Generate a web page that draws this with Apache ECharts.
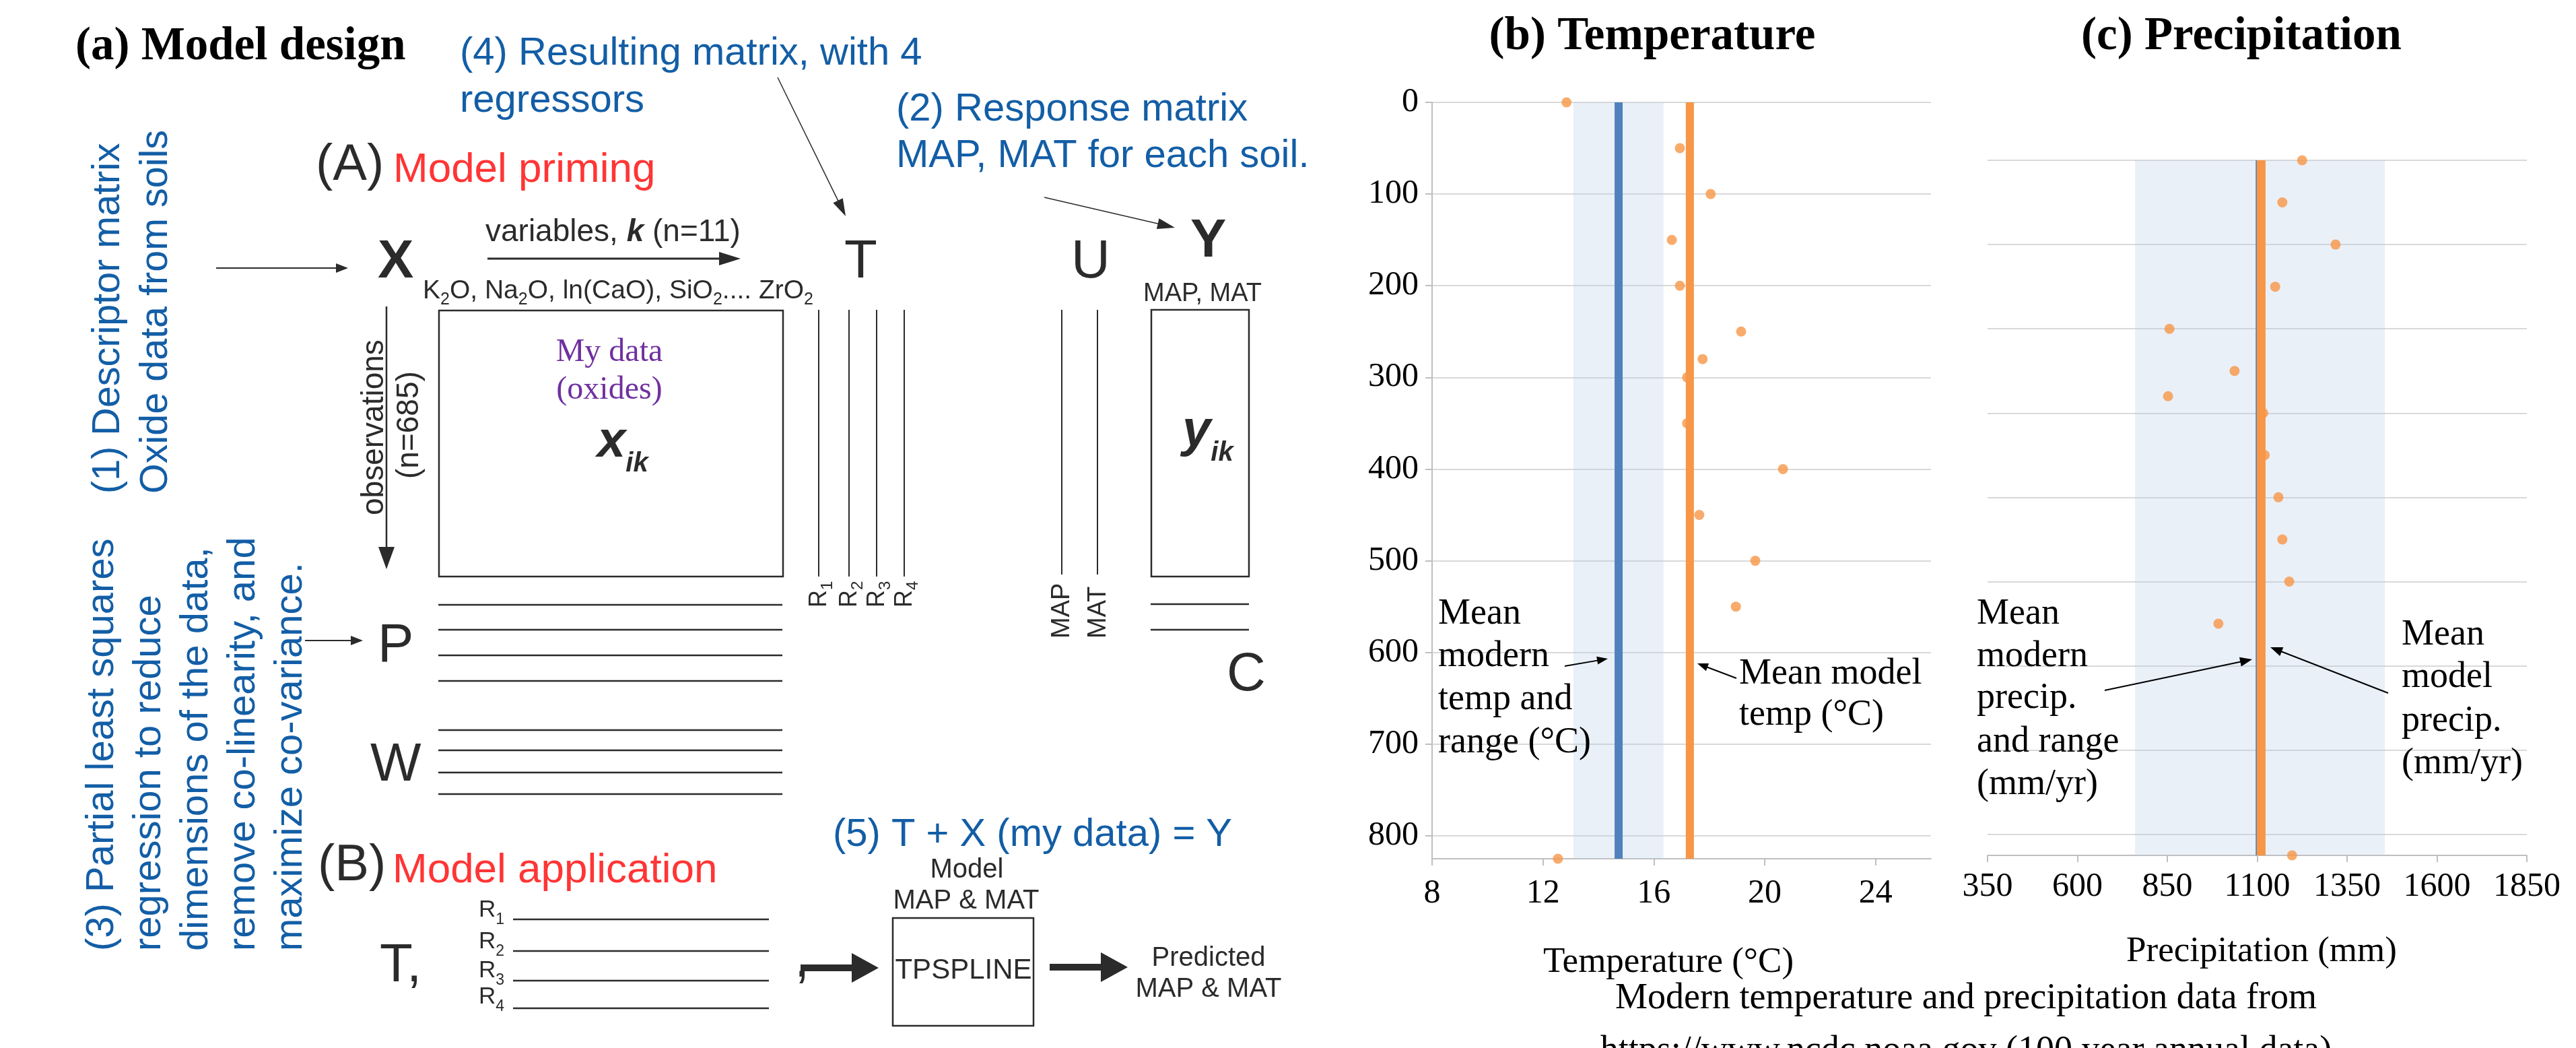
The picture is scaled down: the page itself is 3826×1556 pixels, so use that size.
<!DOCTYPE html>
<html>
<head>
<meta charset="utf-8">
<title>Model design, temperature and precipitation</title>
<script src="https://cdn.jsdelivr.net/npm/echarts@6/dist/echarts.min.js"></script>
<style>
  html, body { margin: 0; padding: 0; background: #fff; }
  #chart { width: 3826px; height: 1556px; }
</style>
</head>
<body>
<div id="chart"></div>
<script>
// depth of each sample (same depths in both panels)
const depths = [0, 50, 100, 150, 200, 250, 280, 300, 350, 400, 450, 500, 550, 825];
// model temperature (°C) per depth
const modelTemp = [12.85, 16.94, 18.05, 16.65, 16.94, 19.15, 17.76, 17.2, 17.2, 20.66, 17.64, 19.66, 18.96, 12.54];
// model precipitation (mm) per depth
const modelPrecip = [1225, 1170, 1318, 1150, 856, 1037, 852, 1117, 1121, 1159, 1170, 1189, 992, 1197];
// means and modern ranges
const meanModelTemp = 17.3;
const meanModernTemp = 14.73;
const modernTempRange = [13.1, 16.35];
const meanModelPrecip = 1111;
const meanModernPrecip = 1107;
const modernPrecipRange = [760, 1455];
// ticks
const depthMax = 825;
const depthTicks = [0, 100, 200, 300, 400, 500, 600, 700, 800];
const tempTicks = [8, 12, 16, 20, 24];
const precipTicks = [350, 600, 850, 1100, 1350, 1600, 1850];

const SANS = "'Liberation Sans', Arial, sans-serif";
const SERIF = "'Liberation Serif', 'Times New Roman', serif";
const INK = '#2b2b2b';
const BLUE = '#135EA6';
const RED = '#FF3535';
const PURPLE = '#7030A0';
const ORANGE = '#F79646';
const BLUE_LINE = '#4F81BD';
const BAND = 'rgba(185, 204, 232, 0.3)';
const AXIS_GRAY = '#BFBFBF';
const GRID_GRAY = '#D9D9D9';

// --- helpers for the diagram (graphic elements) ---
const ctx = document.createElement('canvas').getContext('2d');
function fontOf(size, family, weight) {
  return (weight ? weight + ' ' : '') + size + 'px ' + family;
}
function measure(text, font) {
  ctx.font = font;
  return ctx.measureText(text).width;
}
function tstyle(text, font, fill, align) {
  return { text: text, font: font, fill: fill,
    align: align || 'left', textAlign: align || 'left',
    verticalAlign: 'middle', textVerticalAlign: 'middle' };
}
// single line of text, y given as baseline
function txt(text, x, base, size, family, fill, align, weight) {
  return { type: 'text', z: 50, x: x, y: base - 0.34 * size,
    style: tstyle(text, fontOf(size, family, weight), fill, align) };
}
// rotated (reading upwards) lines; x0 = baseline of first line, y0 = start
function rot(lines, x0, y0, size, lh, family, fill) {
  const font = fontOf(size, family);
  return { type: 'group', x: x0, y: y0, rotation: Math.PI / 2, z: 50,
    children: lines.map((t, i) => ({ type: 'text', z: 50, x: 0, y: i * lh - 0.34 * size,
      style: tstyle(t, font, fill) })) };
}
// mixed runs (subscripts etc.): parts = [text, size, dy, weight]
function run(x, base, parts, fill, rotation) {
  let cx = 0;
  const kids = parts.map(p => {
    const font = fontOf(p[1], SANS, p[3]);
    const el = { type: 'text', z: 50, x: cx, y: (p[2] || 0) - 0.34 * p[1], style: tstyle(p[0], font, fill) };
    cx += measure(p[0], font);
    return el;
  });
  return { type: 'group', x: x, y: base, rotation: rotation || 0, z: 50, children: kids };
}
function seg(x1, y1, x2, y2, lw) {
  return { type: 'line', z: 50, shape: { x1: x1, y1: y1, x2: x2, y2: y2 }, style: { stroke: INK, lineWidth: lw } };
}
function arrow(x1, y1, x2, y2, lw, head, half, color) {
  const c = color || INK;
  const a = Math.atan2(y2 - y1, x2 - x1);
  const bx = x2 - head * Math.cos(a), by = y2 - head * Math.sin(a);
  const nx = -Math.sin(a) * half, ny = Math.cos(a) * half;
  return [
    { type: 'line', z: 50, shape: { x1: x1, y1: y1, x2: bx + Math.cos(a) * 2, y2: by + Math.sin(a) * 2 }, style: { stroke: c, lineWidth: lw } },
    { type: 'polygon', z: 50, shape: { points: [[x2, y2], [bx + nx, by + ny], [bx - nx, by - ny]] }, style: { fill: c } }
  ];
}
function box(x, y, w, h) {
  return { type: 'rect', z: 50, shape: { x: x, y: y, width: w, height: h }, style: { fill: 'none', stroke: INK, lineWidth: 2.5 } };
}

const els = [];
function add() { for (const e of arguments) { Array.isArray(e) ? els.push(...e) : els.push(e); } }

// titles
add(txt('(a) Model design', 112, 94, 69, SERIF, '#000', 'left', 'bold'));
add(txt('(b) Temperature', 2454, 79, 69, SERIF, '#000', 'center', 'bold'));
add(txt('(c) Precipitation', 3329, 79, 69, SERIF, '#000', 'center', 'bold'));

// blue notes
add(txt('(4) Resulting matrix, with 4', 683, 100, 58, SANS, BLUE));
add(txt('regressors', 683, 170, 58, SANS, BLUE));
add(txt('(2) Response matrix', 1331, 183, 58, SANS, BLUE));
add(txt('MAP, MAT for each soil.', 1331, 252, 58, SANS, BLUE));
add(txt('(5) T + X (my data) = Y', 1237, 1260, 58, SANS, BLUE));
add(rot(['(1) Descriptor matrix', 'Oxide data from soils'], 181, 733, 57.5, 71, SANS, BLUE));
add(rot(['(3) Partial least squares', 'regression to reduce', 'dimensions of the data,',
  'remove co-linearity, and', 'maximize co-variance.'], 172, 1412, 58, 70, SANS, BLUE));

// red headings
add(txt('(A)', 469, 272, 76, SANS, INK));
add(txt('Model priming', 584, 274, 62, SANS, RED));
add(txt('(B)', 472, 1312, 76, SANS, INK));
add(txt('Model application', 583, 1314, 62, SANS, RED));

// matrix letters
add(txt('X', 561, 417, 80, SANS, INK, 'left', 'bold'));
add(txt('T', 1254, 417, 80, SANS, INK));
add(txt('U', 1591, 417, 80, SANS, INK));
add(txt('Y', 1768, 386, 80, SANS, INK, 'left', 'bold'));
add(txt('P', 561, 987, 80, SANS, INK));
add(txt('W', 550, 1164, 80, SANS, INK));
add(txt('C', 1822, 1030, 80, SANS, INK));
add(txt('T,', 564, 1462, 80, SANS, INK));
add(txt(',', 1180, 1455, 80, SANS, INK));

// labels of model priming
add(run(721, 361, [['variables, ', 46], ['k', 46, 0, 'italic bold'], [' (n=11)', 46]], INK));
add(arrow(724, 384, 1100, 384, 3, 32, 10));
add(run(628, 446, [['K', 39], ['2', 25, 8], ['O, Na', 39], ['2', 25, 8], ['O, ln(CaO), SiO', 39],
  ['2', 25, 8], ['.... ZrO', 39], ['2', 25, 8]], INK));
add(txt('MAP, MAT', 1698, 449, 38, SANS, INK));
add(arrow(321, 398, 517, 398, 2, 18, 7));
add(rot(['observations'], 572, 765, 46, 0, SANS, INK));
add(rot(['(n=685)'], 624, 711, 46, 0, SANS, INK));
add(arrow(574, 455, 574, 845, 2.5, 33, 12));
add(arrow(453, 951, 539, 951, 2, 18, 7));
add(arrow(1155, 115, 1256, 321, 1.5, 26, 8));
add(arrow(1551, 293, 1745, 338, 1.5, 26, 8));

// X box, T and U columns, Y box
add(box(652, 461, 511, 395));
add(txt('My data', 905, 540, 48, SERIF, PURPLE, 'center'));
add(txt('(oxides)', 905, 596, 48, SERIF, PURPLE, 'center'));
add(run(887, 683, [['x', 76, 0, 'italic bold'], ['ik', 40, 20, 'italic bold']], INK));
[1216, 1261, 1302, 1343].forEach((cx, i) => {
  add(seg(cx, 460, cx, 856, 2));
  add(run(cx + 13, 902, [['R', 36], [String(i + 1), 24, 9]], INK, Math.PI / 2));
});
[1577, 1630].forEach(cx => add(seg(cx, 460, cx, 853, 2)));
add(rot(['MAP'], 1590, 948, 38, 0, SANS, INK));
add(rot(['MAT'], 1644, 948, 38, 0, SANS, INK));
add(box(1710, 460, 145, 396));
add(run(1756, 667, [['y', 76, 0, 'italic bold'], ['ik', 40, 20, 'italic bold']], INK));

// P, W, C rows
[898, 935, 973, 1011, 1084, 1114, 1147, 1179].forEach(y => add(seg(651, y, 1162, y, 2.5)));
[897, 935].forEach(y => add(seg(1709, y, 1855, y, 2.5)));

// model application
[[1363, 1365], [1410, 1412], [1453, 1456], [1492, 1497]].forEach((r, i) => {
  add(run(711, r[0], [['R', 35], [String(i + 1), 23, 10]], INK));
  add(seg(762, r[1], 1142, r[1], 2.5));
});
add(arrow(1189, 1437, 1305, 1437, 10, 40, 22));
add(box(1326, 1363, 209, 160));
add(txt('Model', 1436, 1306, 40, SANS, INK, 'center'));
add(txt('MAP & MAT', 1435, 1352, 40, SANS, INK, 'center'));
add(txt('TPSPLINE', 1431, 1456, 42, SANS, INK, 'center'));
add(arrow(1559, 1436, 1675, 1436, 10, 40, 22));
add(txt('Predicted', 1795, 1437, 40, SANS, INK, 'center'));
add(txt('MAP & MAT', 1795, 1483, 40, SANS, INK, 'center'));

// chart annotations
[['Mean', 930], ['modern', 993], ['temp and', 1057], ['range (°C)', 1121]]
  .forEach(l => add(txt(l[0], 2136, l[1], 54, SERIF, '#000')));
[['Mean model', 1019], ['temp (°C)', 1080]]
  .forEach(l => add(txt(l[0], 2583, l[1], 54, SERIF, '#000')));
[['Mean', 930], ['modern', 993], ['precip.', 1055], ['and range', 1120], ['(mm/yr)', 1183]]
  .forEach(l => add(txt(l[0], 2936, l[1], 54, SERIF, '#000')));
[['Mean', 961], ['model', 1024], ['precip.', 1089], ['(mm/yr)', 1152]]
  .forEach(l => add(txt(l[0], 3567, l[1], 54, SERIF, '#000')));
add(arrow(2324, 989, 2388, 978, 2, 16, 6, '#000'));
add(arrow(2579, 1007, 2521, 985, 2, 16, 6, '#000'));
add(arrow(3126, 1025, 3345, 979, 2, 18, 7, '#000'));
add(arrow(3547, 1029, 3372, 961, 2, 18, 7, '#000'));
add(txt('Modern temperature and precipitation data from', 2920, 1501, 54, SERIF, '#000', 'center'));
add(txt('https://www.ncdc.noaa.gov (100 year annual data)', 2920, 1579, 54, SERIF, '#000', 'center'));

// --- chart panels ---
const labelFont = { fontFamily: SERIF, fontSize: 50, color: '#000', formatter: v => String(v) };
const axisLine = { show: true, onZero: false, lineStyle: { color: AXIS_GRAY, width: 2 } };
const tick = (vals) => ({ show: true, length: 10, customValues: vals, lineStyle: { color: AXIS_GRAY, width: 2 } });

const option = {
  animation: false,
  backgroundColor: '#fff',
  grid: [
    { left: 2127, top: 152, width: 741, height: 1123 },
    { left: 2952, top: 238, width: 801, height: 1032 }
  ],
  xAxis: [
    { gridIndex: 0, type: 'value', min: 8, max: 26,
      axisLine: axisLine, axisTick: tick(tempTicks),
      axisLabel: Object.assign({ customValues: tempTicks, margin: 27 }, labelFont),
      splitLine: { show: false },
      name: 'Temperature (°C)', nameLocation: 'middle', nameGap: 128,
      nameTextStyle: { fontFamily: SERIF, fontSize: 53, color: '#000', padding: [0, 39, 0, 0] } },
    { gridIndex: 1, type: 'value', min: 350, max: 1850,
      axisLine: axisLine, axisTick: tick(precipTicks),
      axisLabel: Object.assign({ customValues: precipTicks, margin: 22 }, labelFont),
      splitLine: { show: false },
      name: 'Precipitation (mm)', nameLocation: 'middle', nameGap: 117,
      nameTextStyle: { fontFamily: SERIF, fontSize: 53, color: '#000', padding: [0, 0, 0, 13] } }
  ],
  yAxis: [
    { gridIndex: 0, type: 'value', inverse: true, min: 0, max: depthMax, interval: 100,
      axisLine: axisLine, axisTick: tick(depthTicks),
      axisLabel: Object.assign({ customValues: depthTicks, margin: 20 }, labelFont),
      splitLine: { show: true, lineStyle: { color: GRID_GRAY, width: 2 } } },
    { gridIndex: 1, type: 'value', inverse: true, min: 0, max: depthMax, interval: 100,
      axisLine: { show: false }, axisTick: { show: false }, axisLabel: { show: false },
      splitLine: { show: true, lineStyle: { color: GRID_GRAY, width: 2 } } }
  ],
  series: [
    { type: 'line', xAxisIndex: 0, yAxisIndex: 0, z: 3, symbol: 'none', silent: true,
      data: [[meanModernTemp, 0], [meanModernTemp, depthMax]],
      lineStyle: { color: BLUE_LINE, width: 12 },
      markArea: { silent: true, itemStyle: { color: BAND },
        data: [[{ xAxis: modernTempRange[0] }, { xAxis: modernTempRange[1] }]] } },
    { type: 'scatter', xAxisIndex: 0, yAxisIndex: 0, z: 4, symbolSize: 15, silent: true,
      itemStyle: { color: ORANGE },
      data: depths.map((d, i) => [modelTemp[i], d]) },
    { type: 'line', xAxisIndex: 0, yAxisIndex: 0, z: 5, symbol: 'none', silent: true,
      data: [[meanModelTemp, 0], [meanModelTemp, depthMax]],
      lineStyle: { color: ORANGE, width: 12 } },

    { type: 'line', xAxisIndex: 1, yAxisIndex: 1, z: 3, symbol: 'none', silent: true,
      data: [[meanModernPrecip, 0], [meanModernPrecip, depthMax]],
      lineStyle: { color: BLUE_LINE, width: 12 },
      markArea: { silent: true, itemStyle: { color: BAND },
        data: [[{ xAxis: modernPrecipRange[0] }, { xAxis: modernPrecipRange[1] }]] } },
    { type: 'scatter', xAxisIndex: 1, yAxisIndex: 1, z: 4, symbolSize: 15, silent: true,
      itemStyle: { color: ORANGE },
      data: depths.map((d, i) => [modelPrecip[i], d]) },
    { type: 'line', xAxisIndex: 1, yAxisIndex: 1, z: 5, symbol: 'none', silent: true,
      data: [[meanModelPrecip, 0], [meanModelPrecip, depthMax]],
      lineStyle: { color: ORANGE, width: 13 } }
  ],
  graphic: { elements: els }
};

const chart = echarts.init(document.getElementById('chart'));
chart.setOption(option);
</script>
</body>
</html>
